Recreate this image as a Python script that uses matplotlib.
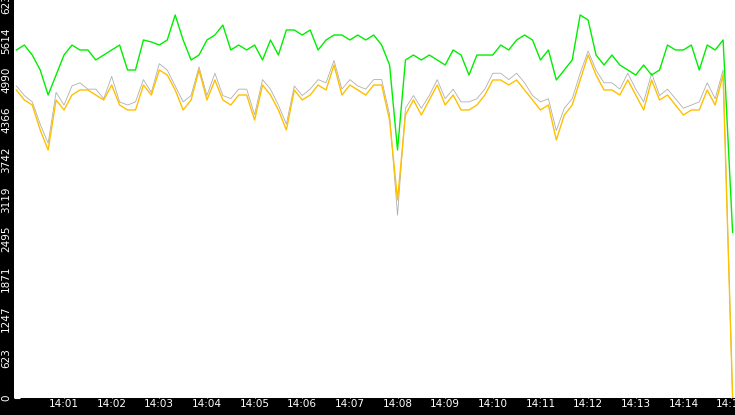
import matplotlib
matplotlib.use("Agg")
import matplotlib.pyplot as plt
import numpy as np

green = [5465,5543,5386,5151,4758,5072,5386,5543,5465,5465,5308,5386,5465,5543,5151,5151,5622,5591,5543,5622,
         6015,5622,5308,5386,5622,5700,5857,5465,5543,5465,5543,5308,5622,5386,5779,5779,5700,5779,5465,5622,
         5700,5700,5622,5700,5622,5700,5543,5229,3895,5308,5386,5308,5386,5308,5229,5465,5386,5072,5386,5386,
         5386,5543,5465,5622,5700,5622,5308,5465,4994,5151,5308,6015,5936,5386,5229,5386,5229,5151,5072,5229,
         5072,5151,5543,5465,5465,5543,5151,5543,5465,5622, 2600]
orange = [4837,4680,4601,4209,3895,4680,4523,4758,4837,4837,4758,4680,4915,4601,4523,4523,4915,4758,5151,5072,
          4837,4523,4680,5151,4680,4994,4680,4601,4758,4758,4366,4915,4758,4523,4209,4837,4680,4758,4915,4837,
          5229,4758,4915,4837,4758,4915,4915,4366,3110,4444,4680,4444,4680,4915,4601,4758,4523,4523,4601,4758,
          4994,4994,4915,4994,4837,4680,4523,4601,4052,4444,4601,4994,5386,5072,4837,4837,4758,4994,4758,4523,
          4994,4680,4758,4601,4444,4523,4523,4837,4601,5072, 0]
gray = [4900,4750,4650,4300,4000,4800,4600,4900,4950,4850,4850,4700,5050,4650,4600,4650,5000,4800,5250,5150,
        4900,4650,4750,5200,4750,5100,4750,4700,4850,4850,4450,5000,4850,4600,4300,4900,4750,4850,5000,4950,
        5300,4850,5000,4900,4850,5000,5000,4450,2870,4550,4750,4550,4750,5000,4700,4850,4650,4650,4700,4850,
        5100,5100,5000,5100,4950,4750,4650,4700,4200,4550,4700,5100,5450,5150,4950,4950,4850,5100,4850,4650,
        5100,4750,4850,4700,4550,4600,4650,4950,4700,5150, 0]
times = list(np.arange(0, 900, 10)) + [902]  # seconds after 14:00:00
xtick_labels = ["14:%02d" % m for m in range(1, 16)]
ytick_vals = [0, 623, 1247, 1871, 2495, 3119, 3742, 4366, 4990, 5614, 6238]

fig = plt.figure(figsize=(7.35, 4.15), dpi=100, facecolor="black")
ax = fig.add_axes([14/735, 17/415, 721/735, 398/415])
ax.set_facecolor("white")
ax.plot(times, gray, color="#b0b0b0", lw=0.6)
ax.plot(times, green, color="#00ee00", lw=1.0)
ax.plot(times, orange, color="#ffc000", lw=1.0)
ax.set_xlim(-3, 905)
ax.set_ylim(0, 6250)
ax.set_yticks(ytick_vals)
ax.set_yticklabels([str(v) for v in ytick_vals], rotation=90, va="center", color="white", fontsize=7.5)
ax.set_xticks([60*m for m in range(1, 16)])
ax.set_xticklabels(xtick_labels, color="white", fontsize=7.5)
ax.tick_params(axis="y", direction="in", color="white", length=4, pad=2)
ax.tick_params(axis="x", direction="in", color="white", length=4, pad=1)
for s in ax.spines.values():
    s.set_visible(False)
fig.savefig("out.png", dpi=100, facecolor="black")
